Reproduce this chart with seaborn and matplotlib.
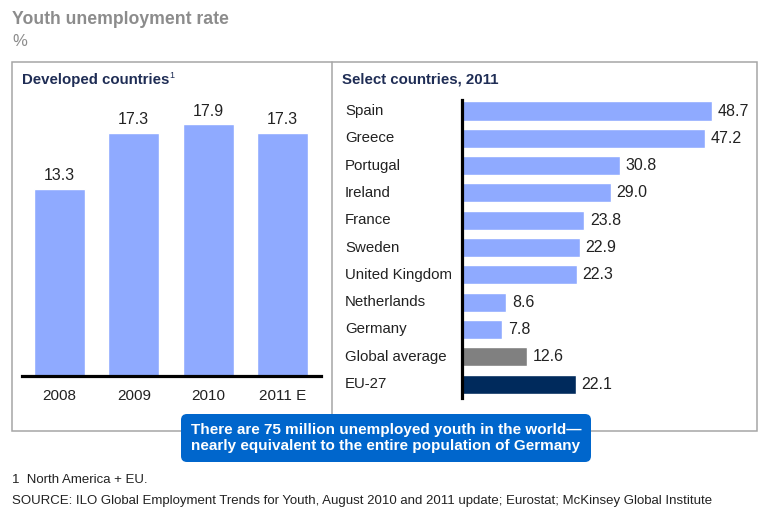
import matplotlib
matplotlib.use("Agg")
import matplotlib.pyplot as plt
import seaborn as sns
from matplotlib.patches import Rectangle, FancyBboxPatch
from matplotlib.transforms import blended_transform_factory

# Youth unemployment rate, developed countries (North America + EU)
years = ["2008", "2009", "2010", "2011 E"]
developed_rates = [13.3, 17.3, 17.9, 17.3]

# Youth unemployment rate by country, 2011
countries = ["Spain", "Greece", "Portugal", "Ireland", "France", "Sweden",
             "United Kingdom", "Netherlands", "Germany", "Global average", "EU-27"]
country_rates = [48.7, 47.2, 30.8, 29.0, 23.8, 22.9, 22.3, 8.6, 7.8, 12.6, 22.1]

BAR = "#8FAAFF"
GREY_BAR = "#808080"
NAVY = "#002A5C"
TEXT = "#222222"
TITLE_NAVY = "#1F2D55"
FRAME = "#A6A6A6"
CALLOUT = "#0066CC"

country_colors = [BAR] * 9 + [GREY_BAR, NAVY]

sns.set_theme(style="white")
plt.rcParams["font.family"] = ["Liberation Sans", "DejaVu Sans"]

W, H = 761, 516
fig = plt.figure(figsize=(W / 100, H / 100), dpi=100)


def rect(x0, y0, x1, y1):
    """Pixel box (origin top-left) -> figure-fraction axes rect."""
    return [x0 / W, 1 - y1 / H, (x1 - x0) / W, (y1 - y0) / H]


# Overlay in pixel units for frames, titles and notes
frame = fig.add_axes([0, 0, 1, 1], zorder=0)
frame.set_xlim(0, W)
frame.set_ylim(H, 0)
frame.axis("off")

frame.add_patch(Rectangle((12, 62), 745, 369, fill=False, edgecolor=FRAME, lw=1.1))
frame.plot([332, 332], [62, 431], color=FRAME, lw=1.1)

frame.text(12, 20, "Youth unemployment rate", fontsize=12.7, fontweight="bold",
           color="#8C8C8C", va="center", ha="left")
frame.text(12, 42, "%", fontsize=12, color="#8C8C8C", va="center", ha="left")

frame.text(22, 80, "Developed countries", fontsize=10.8, fontweight="bold",
           color=TITLE_NAVY, va="center", ha="left")
frame.text(169, 75, "1", fontsize=6.5, color=TITLE_NAVY, va="center", ha="left")
frame.text(342, 80, "Select countries, 2011", fontsize=10.8, fontweight="bold",
           color=TITLE_NAVY, va="center", ha="left")

frame.add_patch(FancyBboxPatch((181, 414), 410, 48,
                               boxstyle="round,pad=0,rounding_size=6",
                               facecolor=CALLOUT, edgecolor="none", zorder=5))
frame.text(386, 438,
           "There are 75 million unemployed youth in the world\u2014\n"
           "nearly equivalent to the entire population of Germany",
           fontsize=11, fontweight="bold", color="white", ha="center",
           va="center", linespacing=1.2, zorder=6)

frame.text(12, 480, "1  North America + EU.", fontsize=9.5, color=TEXT,
           va="center", ha="left")
frame.text(12, 501, "SOURCE: ILO Global Employment Trends for Youth, August 2010 and "
           "2011 update; Eurostat; McKinsey Global Institute",
           fontsize=9.5, color=TEXT, va="center", ha="left")

# Left panel: developed countries over time
px_per_unit = 14.07
ax1 = fig.add_axes(rect(22, 100, 321, 376), zorder=1)
ax1.patch.set_alpha(0)
sns.barplot(x=years, y=developed_rates, color=BAR, saturation=1, width=0.69, ax=ax1)
ax1.set_ylim(0, (376 - 100) / px_per_unit)
ax1.set_xlim(-0.504, 3.518)
for c in ax1.containers:
    ax1.bar_label(c, fmt="%.1f", padding=4, fontsize=11.5, color=TEXT)
for s in ["top", "right", "left"]:
    ax1.spines[s].set_visible(False)
ax1.spines["bottom"].set_color("black")
ax1.spines["bottom"].set_linewidth(2.3)
ax1.set_yticks([])
ax1.tick_params(axis="x", length=0, pad=9, labelsize=11, labelcolor=TEXT)
ax1.set_xlabel("")
ax1.set_ylabel("")

# Right panel: selected countries in 2011
ax2 = fig.add_axes(rect(462, 100, 745, 398), zorder=1)
ax2.patch.set_alpha(0)
sns.barplot(x=country_rates, y=countries, hue=countries, palette=country_colors,
            legend=False, orient="h", saturation=1, width=0.7, ax=ax2)
ax2.set_xlim(0, (745 - 462) / 5.14)
ax2.set_ylim(10.51, -0.403)
for c in ax2.containers:
    ax2.bar_label(c, fmt="%.1f", padding=4, fontsize=11.5, color=TEXT)
for s in ["top", "right", "bottom"]:
    ax2.spines[s].set_visible(False)
ax2.spines["left"].set_color("black")
ax2.spines["left"].set_linewidth(2.3)
ax2.set_xticks([])
ax2.set_yticks([])
ax2.set_xlabel("")
ax2.set_ylabel("")

label_tf = blended_transform_factory(fig.transFigure, ax2.transData)
for i, name in enumerate(countries):
    ax2.text(345 / W, i, name, transform=label_tf, fontsize=10.8, color=TEXT,
             ha="left", va="center", clip_on=False)

fig.savefig("out.png", dpi=100)
